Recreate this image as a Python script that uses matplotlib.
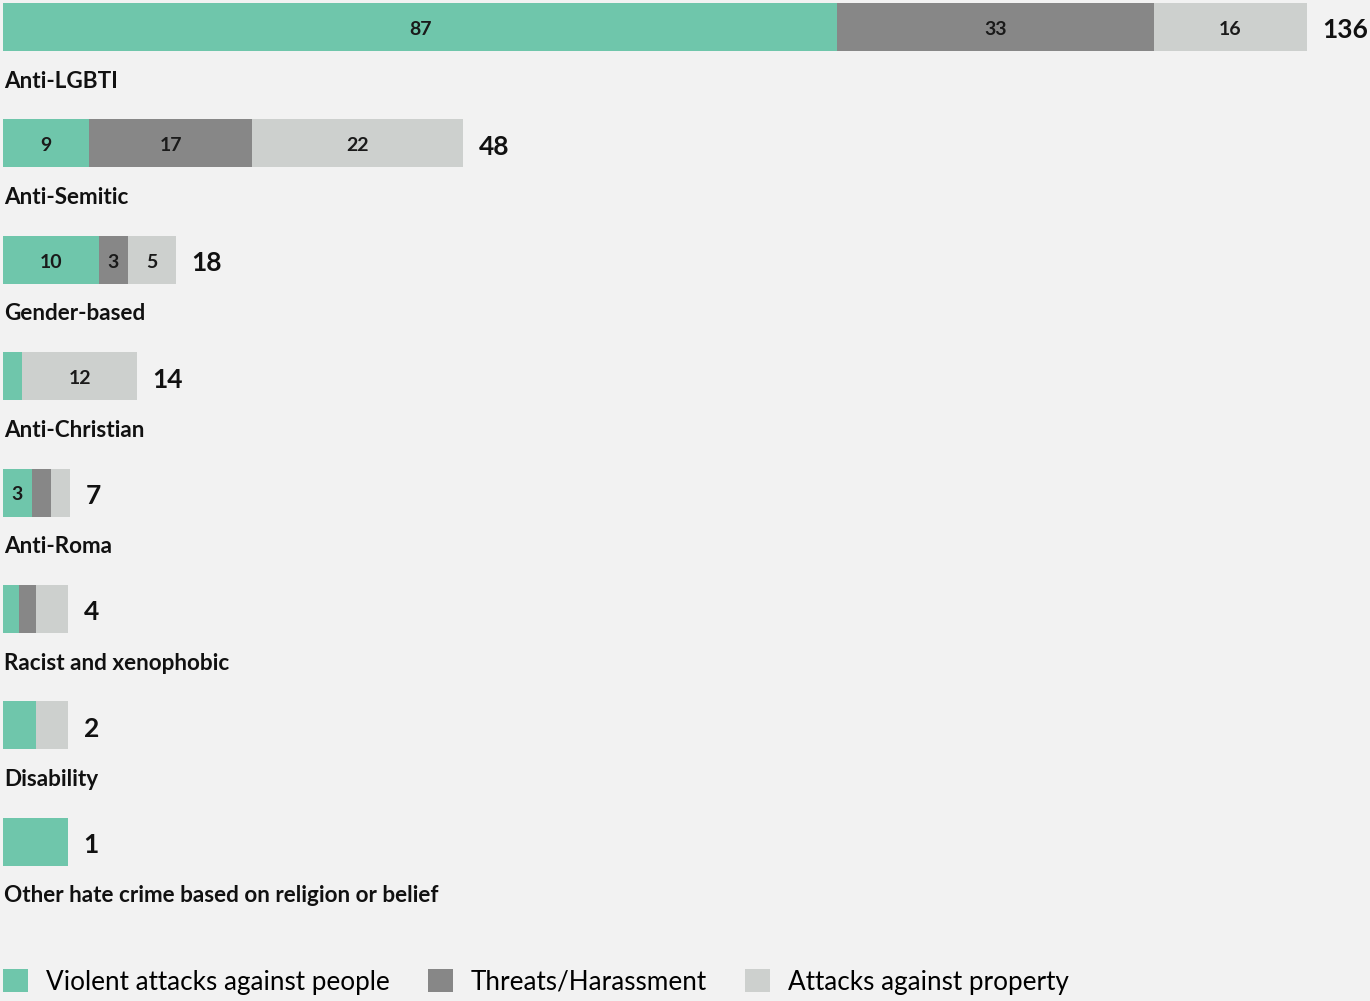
import numpy as np
import matplotlib
matplotlib.use("Agg")
from matplotlib import pyplot as plt
from matplotlib.patches import Patch

plt.rcParams["font.family"] = ["Lato", "DejaVu Sans"]

categories = [
    "Anti-LGBTI",
    "Anti-Semitic",
    "Gender-based",
    "Anti-Christian",
    "Anti-Roma",
    "Racist and xenophobic",
    "Disability",
    "Other hate crime based on religion or belief",
]
violent = [87, 9, 10, 2, 3, 1, 1, 1]
threats = [33, 17, 3, 0, 2, 1, 0, 0]
property_ = [16, 22, 5, 12, 2, 2, 1, 0]

series_names = ["Violent attacks against people", "Threats/Harassment", "Attacks against property"]
colors = ["#6fc6ab", "#878787", "#cdd0ce"]
bg = "#f2f2f2"

# small bars get drawn with a minimum visual length
min_len = 6.8

fig = plt.figure(figsize=(13.7, 10.01), dpi=100, facecolor=bg)
ax = fig.add_axes([0, 0, 1, 1])
ax.set_facecolor(bg)
ax.set_xlim(-3 / 9.59, 1367 / 9.59)
ax.set_ylim((1001 - 27) / 116.4, -27 / 116.4)
ax.axis("off")

data = np.array([violent, threats, property_], dtype=float)
totals = data.sum(axis=0)
scale = np.maximum(totals, min_len) / totals

for i, cat in enumerate(categories):
    left = 0.0
    for k in range(3):
        v = data[k, i]
        if v == 0:
            continue
        w = v * scale[i]
        ax.barh(i, w, left=left, height=0.412, color=colors[k], linewidth=0)
        if v >= 3:
            ax.text(left + w / 2, i + 0.02, f"{int(v)}", ha="center", va="center",
                    fontsize=14, fontweight="bold", color="#1a1a1a")
        left += w
    ax.text(left + 1.6, i + 0.03, f"{int(totals[i])}", ha="left", va="center",
            fontsize=19, fontweight="bold", color="#111111")
    ax.text(0.1, i + 0.464, cat, ha="left", va="center",
            fontsize=16.2, fontweight="bold", color="#111111")

handles = [Patch(facecolor=c, edgecolor="none") for c in colors]
ax.legend(handles, series_names, loc="center left", bbox_to_anchor=(0.0022, 0.019),
          ncol=3, frameon=False, fontsize=18.8, handlelength=0.95, handleheight=0.95,
          handletextpad=0.7, columnspacing=1.45, borderaxespad=0, borderpad=0)

fig.savefig("out.png", dpi=100, facecolor=bg)
